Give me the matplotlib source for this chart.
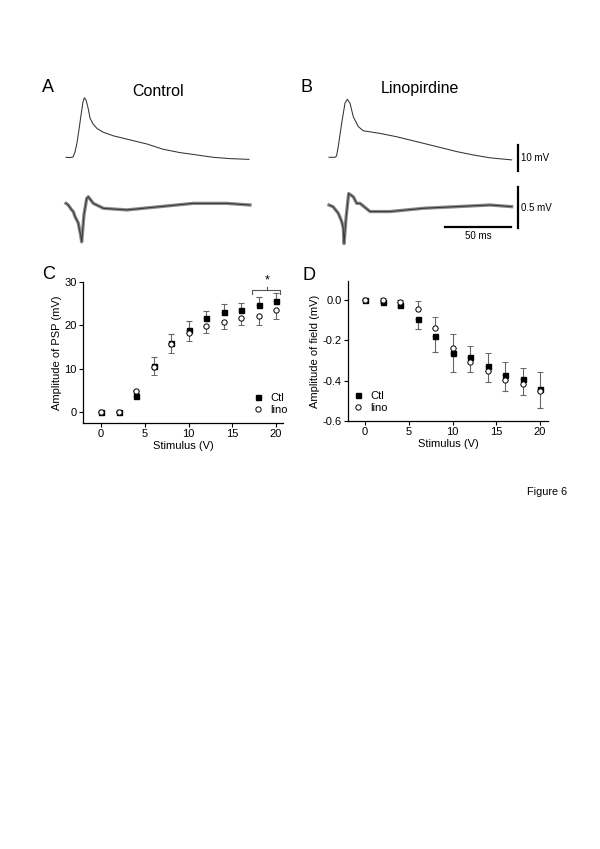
import numpy as np
import matplotlib
matplotlib.use("Agg")
import matplotlib.pyplot as plt

plt.rcParams['font.family'] = ['Liberation Sans', 'DejaVu Sans']
plt.rcParams['axes.unicode_minus'] = False

# ---------------- data ----------------
# Panel A/B traces: time (ms), membrane potential (mV) / field (mV)
ctl_psp_t = [0, 3.0, 5.3, 6.8, 8.3, 9.8, 11.4, 12.9, 13.9, 15.2, 16.7, 18.2, 20.5, 23.5, 28.0,
             35.6, 48.5, 61.4, 73.5, 86.4, 99.2, 111.4, 124.2, 138.6]
ctl_psp_v = [0, -0.1, 0.1, 2.0, 5.5, 10.5, 16.3, 21.3, 22.9, 22.0, 19.0, 15.1, 12.8, 11.1, 9.7,
             8.3, 6.7, 5.1, 3.1, 1.8, 0.9, 0.0, -0.5, -0.8]
lino_psp_t = [0, 4.5, 5.7, 7.0, 9.6, 12.1, 13.9, 15.9, 18.4, 22.2, 26.0, 38.6, 51.3, 71.4, 84.1,
              96.7, 109.3, 122.0, 138.4]
lino_psp_v = [0, 0, 0.5, 4.1, 13.1, 20.8, 22.3, 20.8, 15.6, 11.8, 10.2, 9.2, 7.9, 5.4, 3.8,
              2.2, 0.9, -0.2, -1.0]
ctl_field_t = [0, 1.7, 4.3, 5.5, 6.8, 9.3, 11.1, 11.9, 13.6, 15.7, 16.9, 20.7, 28.3, 46.0, 71.2,
               96.4, 121.7, 139.4]
ctl_field_v = [0.02, 0, -0.06, -0.08, -0.14, -0.22, -0.37, -0.45, -0.12, 0.08, 0.10, 0.02, -0.04,
               -0.06, -0.02, 0.02, 0.02, 0.0]
lino_field_t = [0, 3.0, 7.0, 9.6, 10.8, 11.4, 12.9, 14.9, 18.4, 21.0, 23.5, 31.1, 46.2, 71.4,
                96.7, 122.0, 138.4]
lino_field_v = [0, -0.02, -0.10, -0.20, -0.28, -0.47, -0.16, 0.14, 0.10, 0.02, 0.02, -0.08,
                -0.08, -0.04, -0.02, 0.0, -0.02]

# Panel C/D
stim = [0, 2, 4, 6, 8, 10, 12, 14, 16, 18, 20]
psp_ctl = [0, 0.05, 3.7, 10.6, 16.0, 19.0, 21.6, 23.1, 23.5, 24.7, 25.7]
psp_ctl_err = [0, 0.1, 1.4, 2.0, 2.0, 1.9, 1.8, 1.9, 1.7, 1.8, 1.7]
psp_lino = [0, 0.1, 4.8, 10.3, 15.8, 18.3, 19.8, 20.8, 21.8, 22.1, 23.5]
psp_lino_err = [0, 0.1, 0.4, 1.7, 2.1, 1.9, 1.6, 1.7, 1.7, 2.0, 2.0]

fld_ctl = [0, -0.011, -0.025, -0.094, -0.177, -0.261, -0.283, -0.327, -0.372, -0.390, -0.443]
fld_ctl_err = [0, 0.005, 0.01, 0.052, 0.081, 0.098, 0.076, 0.081, 0.079, 0.081, 0.094]
fld_lino = [0, 0.0, -0.011, -0.045, -0.140, -0.236, -0.307, -0.352, -0.395, -0.416, -0.453]
fld_lino_err = [0, 0.008, 0.011, 0.040, 0.054, 0.066, 0.077, 0.088, 0.086, 0.080, 0.094]

W, H = 600, 849
fig = plt.figure(figsize=(W / 100, H / 100), dpi=100)


def px_axes(x0, y0, x1, y1):
    return fig.add_axes([x0 / W, 1 - y1 / H, (x1 - x0) / W, (y1 - y0) / H])


def trace_axes(x0, y0, x1, y1, ox, oy, sx, sy):
    ax = px_axes(x0, y0, x1, y1)
    ax.set_xlim((x0 - ox) / sx, (x1 - ox) / sx)
    ax.set_ylim((oy - y1) / sy, (oy - y0) / sy)
    ax.axis('off')
    return ax

MS = 1.32      # px per ms
MV = 2.6       # px per mV (PSP)
FMV = 82.0     # px per mV (field)

# ---- A ----
axA1 = trace_axes(60, 85, 260, 175, 66, 157.3, MS, MV)
axA1.plot(ctl_psp_t, ctl_psp_v, color='#333333', lw=0.75)
axA2 = trace_axes(60, 180, 260, 250, 66, 205, MS, FMV)
axA2.plot(ctl_field_t, ctl_field_v, color='#8a8a8a', lw=2.4)
axA2.plot(ctl_field_t, ctl_field_v, color='#333333', lw=0.7)

# ---- B ----
axB1 = trace_axes(323, 85, 530, 175, 329, 157.3, MS, MV)
axB1.plot(lino_psp_t, lino_psp_v, color='#333333', lw=0.75)
axB1.plot([143.2, 143.2], [-5.3, 4.7], color='black', lw=1.6)
axB1.text(145.6, -0.3, '10 mV', fontsize=7, ha='left', va='center', clip_on=False)

axB2 = trace_axes(323, 180, 530, 250, 329, 205, MS, FMV)
axB2.plot(lino_field_t, lino_field_v, color='#8a8a8a', lw=2.4)
axB2.plot(lino_field_t, lino_field_v, color='#333333', lw=0.7)
axB2.plot([143.2, 143.2], [0.22, -0.28], color='black', lw=1.6)
axB2.plot([88, 138], [-0.268, -0.268], color='black', lw=1.6)
axB2.text(145.6, -0.037, '0.5 mV', fontsize=7, ha='left', va='center', clip_on=False)
axB2.text(113, -0.38, '50 ms', fontsize=7, ha='center', va='center', clip_on=False)

fig.text(42 / W, 1 - 88 / H, 'A', fontsize=13, ha='left', va='center')
fig.text(158 / W, 1 - 91 / H, 'Control', fontsize=11.5, ha='center', va='center')
fig.text(301 / W, 1 - 88 / H, 'B', fontsize=13, ha='left', va='center')
fig.text(420 / W, 1 - 89 / H, 'Linopirdine', fontsize=11.5, ha='center', va='center')


def style(ax):
    for s in ['top', 'right']:
        ax.spines[s].set_visible(False)
    for s in ['left', 'bottom']:
        ax.spines[s].set_linewidth(0.9)
    ax.tick_params(direction='out', length=3, width=0.8, labelsize=8, pad=1.5)

eb_kw = dict(ecolor='#666666', elinewidth=0.8, capsize=2.2, capthick=0.8, linestyle='none')

# ---- C ----
axC = px_axes(83, 282, 283, 423)
axC.set_xlim(-2.06, 20.8)
axC.set_ylim(-2.54, 30)
style(axC)
axC.errorbar(stim, psp_ctl, yerr=[[0] * len(stim), psp_ctl_err], marker='s', ms=3.6,
             mfc='black', mec='black', label='Ctl', **eb_kw)
axC.errorbar(stim, psp_lino, yerr=[psp_lino_err, [0] * len(stim)], marker='o', ms=3.8,
             mfc='white', mec='black', mew=0.7, label='lino', **eb_kw)
axC.set_xticks([0, 5, 10, 15, 20])
axC.set_yticks([0, 10, 20, 30])
axC.set_xlabel('Stimulus (V)', fontsize=8, labelpad=1)
axC.set_ylabel('Amplitude of PSP (mV)', fontsize=8, labelpad=2)
axC.plot([17.2, 17.2, 20.45, 20.45], [27.2, 28.2, 28.2, 27.2], color='#555555', lw=0.8,
         clip_on=False)
axC.plot([19, 19], [28.2, 28.9], color='#555555', lw=0.8, clip_on=False)
axC.text(19, 30.3, '*', fontsize=9, ha='center', va='center', clip_on=False)
hC, lC = axC.get_legend_handles_labels()
axC.legend([h[0] for h in hC], lC, loc='lower left', bbox_to_anchor=(0.81, 0.0),
           frameon=False, fontsize=8, handlelength=1.0, handletextpad=0.6,
           labelspacing=0.2, borderpad=0.2)
fig.text(42 / W, 1 - 274 / H, 'C', fontsize=13, ha='left', va='center')

# ---- D ----
axD = px_axes(348, 281, 548, 421)
axD.set_xlim(-1.94, 20.9)
axD.set_ylim(-0.6, 0.094)
style(axD)
axD.errorbar(stim, fld_ctl, yerr=[fld_ctl_err, [0] * len(stim)], marker='s', ms=3.6,
             mfc='black', mec='black', label='Ctl', **eb_kw)
axD.errorbar(stim, fld_lino, yerr=[[0] * len(stim), fld_lino_err], marker='o', ms=3.8,
             mfc='white', mec='black', mew=0.7, label='lino', **eb_kw)
axD.set_xticks([0, 5, 10, 15, 20])
axD.set_yticks([0.0, -0.2, -0.4, -0.6])
axD.set_yticklabels(['0.0', '-0.2', '-0.4', '-0.6'])
axD.set_xlabel('Stimulus (V)', fontsize=8, labelpad=1)
axD.set_ylabel('Amplitude of field (mV)', fontsize=8, labelpad=2)
hD, lD = axD.get_legend_handles_labels()
axD.legend([h[0] for h in hD], lD, loc='lower left', bbox_to_anchor=(-0.015, 0.0),
           frameon=False, fontsize=8, handlelength=1.0, handletextpad=0.6,
           labelspacing=0.2, borderpad=0.2)
fig.text(303 / W, 1 - 275 / H, 'D', fontsize=13, ha='left', va='center')

fig.text(527 / W, 1 - 492 / H, 'Figure 6', fontsize=7.8, ha='left', va='center')

fig.savefig('out.png', dpi=100, facecolor='white')
